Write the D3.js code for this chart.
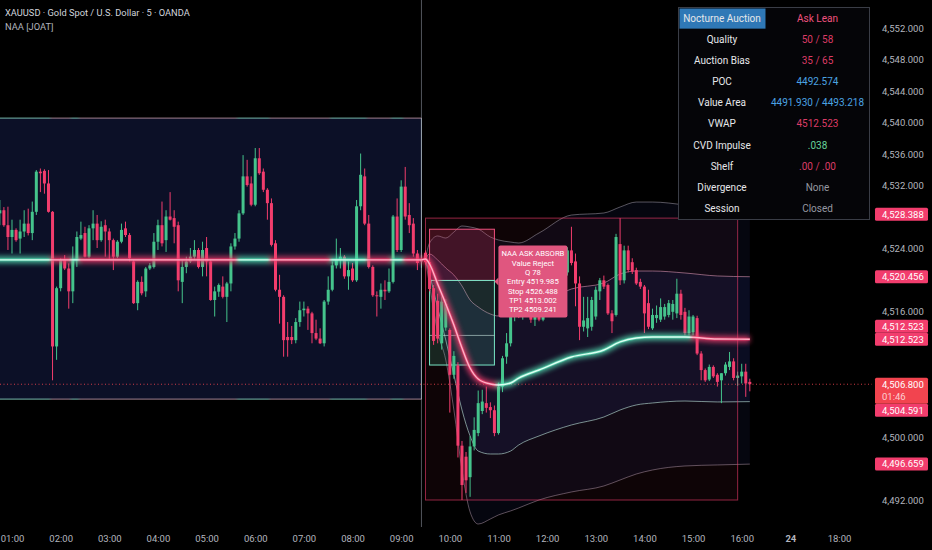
<!DOCTYPE html>
<html>
<head>
<meta charset="UTF-8">
<script src="https://cdn.jsdelivr.net/npm/d3@7"></script>
<style>
body {margin:0; background:#000;}
svg {display:block; font-family: Roboto, "Noto Sans", sans-serif;}
</style>
<title>XAUUSD 5m - NAA</title>
</head>
<body>
<svg id="chart" width="932" height="550"></svg>
<script>
// bars are 5 minutes, first visible bar opens 00:45
var firstBar = 45;
var barMin = 5;

var opens = [
4528.5,4528.9,4527.0,4525.5,4526.4,4525.3,4526.2,4527.2,4526.0,4528.7,
4533.8,4533.9,4532.3,4528.7,4511.6,4519.0,4522.6,4521.5,4518.6,4522.6,
4525.3,4526.0,4523.0,4526.6,4527.2,4525.1,4527.0,4526.2,4525.1,4523.0,
4524.9,4526.6,4525.75,4522.4,4517.1,4519.8,4518.6,4521.5,4521.7,4524.9,
4527.0,4525.1,4528.1,4527.9,4527.0,4519.8,4521.7,4522.4,4523.0,4523.85,
4521.7,4524.1,4522.4,4517.5,4518.56,4519.2,4517.9,4519.6,4524.3,4525.3,
4528.5,4533.2,4532.3,4529.6,4535.5,4533.8,4531.5,4529.8,4524.7,4518.8,
4517.9,4512.8,4512.8,4512.4,4514.7,4516.2,4516.4,4515.8,4513.3,4512.6,
4512.0,4517.3,4518.8,4521.9,4522.6,4523.0,4520.5,4521.5,4520.0,4529.4,
4533.2,4527.2,4521.7,4518.1,4517.9,4518.8,4518.6,4519.8,4528.1,4523.85,
4531.9,4528.3,4527.2,4523.4,4522.4,
4523.5,4522.3,4519.0,4517.4,4512.0,
4514.0,4513.7,4508.0,4509.2,4499.0,4497.6,4495.0,4498.9,4500.6,4503.4,
4504.4,4503.9,4503.5,4500.6,4506.5,4510.3,4512.0,4515.4,4516.4,4515.6,
4517.6,4517.0,4515.0,4515.6,4515.0,4518.0,4519.6,4519.0,4521.4,4520.6,
4521.0,4523.8,4522.4,4519.6,4514.1,4513.9,4514.1,4515.4,4518.6,4520.0,
4519.4,4515.8,4515.6,4524.6,4520.0,4523.8,4522.3,4521.3,4519.8,4519.2,
4517.1,4513.9,4515.2,4515.0,4515.4,4515.6,4516.0,4515.8,4518.3,4516.0,
4513.3,4513.4,4515.2,4510.7,4508.6,4507.4,4509.0,4508.0,4507.3,4508.2,
4509.0,4509.7,4507.6,4507.8,4508.4,4507.1
];
var highs = [
4530.2,4529.3,4529.35,4527.7,4526.6,4527.7,4528.9,4529.1,4530.0,4534.0,
4534.2,4534.1,4534.0,4528.8,4519.2,4522.8,4523.2,4522.15,4524.3,4526.2,
4527.45,4526.8,4527.0,4528.9,4528.3,4527.5,4527.7,4526.6,4525.3,4525.1,
4527.2,4527.45,4526.0,4522.6,4520.0,4520.5,4521.7,4522.2,4526.0,4527.7,
4530.0,4528.9,4531.2,4528.9,4527.45,4522.6,4523.0,4524.1,4525.1,4524.1,
4524.9,4525.5,4522.6,4519.2,4519.6,4520.5,4519.8,4524.7,4526.0,4528.9,
4535.9,4535.3,4533.2,4536.8,4536.8,4534.2,4531.7,4530.4,4525.1,4520.7,
4518.1,4514.7,4514.2,4515.2,4517.3,4517.3,4516.7,4516.0,4515.0,4513.9,
4517.5,4520.5,4522.4,4525.3,4524.1,4523.2,4522.4,4522.2,4530.2,4536.1,
4534.2,4528.3,4521.9,4518.6,4519.6,4520.0,4521.5,4528.3,4530.4,4532.7,
4534.4,4529.8,4527.9,4523.85,4523.2,
4523.8,4522.6,4519.4,4518.3,4518.0,
4517.6,4513.9,4511.0,4509.6,4499.6,4498.2,4500.2,4502.6,4506.0,4506.1,
4506.5,4504.5,4504.1,4507.0,4510.4,4513.3,4516.0,4517.0,4517.6,4518.2,
4519.0,4517.4,4516.0,4517.2,4518.4,4520.2,4521.0,4521.8,4522.6,4523.8,
4524.2,4526.8,4523.4,4520.5,4517.9,4517.9,4517.9,4519.2,4520.3,4520.6,
4519.6,4516.2,4525.9,4527.9,4524.4,4524.4,4522.8,4521.6,4520.2,4519.4,
4518.8,4516.4,4516.8,4517.7,4517.0,4517.5,4517.5,4520.2,4518.8,4516.5,
4516.2,4515.6,4515.5,4511.0,4508.8,4509.3,4509.2,4508.2,4508.2,4509.6,
4510.9,4510.1,4508.4,4509.4,4509.4,4507.5
];
var lows = [
4527.0,4526.8,4523.85,4523.4,4524.9,4523.4,4525.5,4525.7,4525.1,4528.3,
4531.2,4531.0,4528.6,4507.3,4509.9,4518.6,4521.3,4516.4,4517.1,4521.7,
4525.1,4522.9,4522.8,4525.1,4524.1,4524.9,4523.0,4522.6,4521.3,4522.8,
4524.7,4525.5,4522.4,4517.0,4516.2,4518.1,4517.9,4521.3,4521.5,4523.85,
4524.3,4523.6,4527.6,4524.7,4518.6,4517.1,4520.9,4522.2,4522.6,4521.5,
4520.5,4520.5,4517.4,4515.4,4517.9,4517.7,4514.7,4518.6,4523.9,4524.9,
4528.3,4531.9,4529.4,4529.4,4533.4,4531.2,4527.7,4524.3,4518.6,4514.5,
4510.3,4510.3,4511.9,4512.0,4514.1,4515.4,4513.7,4512.0,4512.4,4511.9,
4511.6,4516.9,4518.6,4521.5,4521.5,4520.2,4518.8,4519.8,4519.8,4528.9,
4527.0,4521.5,4517.9,4515.4,4516.4,4517.5,4518.4,4519.6,4523.6,4523.6,
4527.7,4526.0,4523.0,4521.3,4521.6,
4522.0,4518.6,4511.8,4512.0,4511.2,
4513.6,4503.2,4507.5,4497.5,4492.1,4493.0,4492.5,4498.4,4500.2,4503.0,
4503.2,4502.5,4500.2,4500.4,4505.8,4509.4,4511.6,4514.8,4515.2,4515.0,
4516.6,4514.6,4514.2,4514.8,4514.8,4517.4,4518.6,4518.6,4520.2,4520.2,
4520.6,4521.9,4516.7,4512.4,4513.5,4512.8,4513.6,4515.0,4517.5,4518.9,
4515.6,4513.3,4515.4,4519.4,4519.6,4521.0,4520.8,4519.4,4518.9,4513.3,
4513.8,4513.7,4514.6,4514.7,4515.0,4515.3,4515.0,4515.2,4515.0,4513.0,
4513.0,4513.0,4510.5,4507.3,4507.1,4507.2,4507.6,4506.5,4504.4,4507.9,
4508.6,4507.3,4506.6,4506.9,4505.2,4505.9
];
var closes = [
4528.9,4527.0,4525.5,4526.4,4525.1,4526.2,4527.2,4526.0,4528.7,4533.8,
4533.6,4532.3,4528.7,4511.6,4519.0,4522.6,4521.5,4518.6,4522.6,4525.5,
4525.75,4523.0,4526.6,4527.2,4525.1,4526.8,4526.2,4525.1,4523.0,4524.9,
4526.4,4525.75,4522.8,4517.1,4519.8,4518.35,4521.5,4521.9,4524.9,4527.0,
4524.7,4528.1,4527.7,4526.8,4520.0,4521.7,4522.4,4523.0,4523.85,4521.7,
4523.85,4522.4,4517.5,4518.6,4519.4,4517.9,4519.6,4524.3,4525.3,4528.5,
4533.2,4532.1,4529.6,4535.5,4533.6,4531.5,4529.8,4524.5,4518.8,4517.9,
4512.4,4512.4,4512.4,4514.7,4516.2,4516.4,4515.8,4513.3,4512.6,4512.0,
4517.3,4518.8,4521.9,4522.6,4523.0,4520.5,4521.3,4520.0,4529.4,4533.4,
4527.2,4521.7,4518.1,4518.0,4518.8,4518.6,4519.8,4528.1,4523.85,4531.9,
4528.1,4527.0,4523.4,4522.2,4522.6,
4522.3,4518.9,4512.3,4512.6,4517.3,
4517.0,4508.0,4510.4,4499.0,4494.0,4494.6,4498.9,4501.0,4504.4,4504.6,
4503.8,4503.5,4500.6,4506.5,4510.1,4512.0,4515.4,4516.4,4515.6,4517.6,
4517.0,4515.0,4515.6,4515.0,4518.0,4519.6,4519.0,4521.4,4520.6,4523.2,
4523.8,4522.2,4519.6,4514.1,4514.9,4515.2,4517.5,4518.8,4520.0,4519.2,
4515.8,4514.8,4525.5,4520.0,4523.8,4521.3,4521.1,4519.6,4519.2,4515.8,
4514.1,4515.6,4515.6,4516.6,4516.6,4517.1,4517.0,4518.3,4515.6,4513.3,
4515.4,4515.4,4510.7,4508.6,4507.3,4509.0,4507.8,4507.1,4508.2,4509.3,
4509.7,4507.6,4507.9,4508.4,4506.9,4506.8
];

// overnight box and its mid line (bars 0..104), new session from bar 105
var asiaEndBar = 104;
var asiaMid = 4522.6;
var asiaBoxTop = 4540.6;
var asiaBoxBottom = 4504.9;
var sessionStartBar = 105;
var sessionBoxEndBar = 182;

// session VWAP and deviation bands, read at these bars
var bandBars = [105,106,108,110,112,114,116,118,121,123,126,128,133,141,149,153,157,161,169,177,185];
var vwap   = [4522.71,4522.07,4519.53,4516.99,4514.32,4511.40,4508.86,4507.47,4506.83,4506.71,4506.96,4507.59,4508.61,4510.26,4511.15,4512.17,4512.67,4512.80,4512.80,4512.55,4512.523];
var upper1 = [4522.71,4523.34,4522.58,4521.56,4520.67,4519.28,4517.50,4516.61,4515.72,4515.47,4515.59,4516.10,4516.99,4518.90,4519.66,4520.80,4521.18,4521.18,4520.93,4520.55,4520.456];
var lower1 = [4522.71,4520.80,4516.48,4512.42,4507.98,4503.53,4500.23,4498.32,4497.94,4497.94,4498.32,4499.09,4500.23,4501.63,4502.64,4503.53,4504.17,4504.42,4504.67,4504.55,4504.591];
var upper2 = [4522.71,4524.74,4525.63,4525.37,4526.13,4526.90,4526.77,4526.52,4525.50,4525.12,4524.86,4524.74,4526.01,4528.29,4528.55,4529.31,4529.94,4529.94,4529.56,4528.93,4528.388];
var lower2 = [4522.71,4519.40,4513.44,4509.88,4503.53,4495.91,4490.58,4489.05,4489.69,4490.20,4490.71,4491.09,4492.10,4493.12,4493.88,4494.64,4495.40,4495.91,4496.42,4496.55,4496.659];

// flow bias of the mid line: bar where it flips, and the side it flips to
var biasBars  = [0, 13, 18, 20, 59, 67, 82, 91, 97, 100, 123, 171];
var biasSides = ["bid","ask","bid","ask","bid","ask","bid","ask","bid","ask","bid","ask"];

// signal
var signalStartBar = 106;
var signalEndBar = 122;
var entry = 4519.985, stop = 4526.488, tp1 = 4513.002, tp2 = 4509.241;
var signalText = ["NAA ASK ABSORB","Value Reject","Q 78","Entry 4519.985","Stop 4526.488","TP1 4513.002","TP2 4509.241"];

// panel
var tableLabels = ["Nocturne Auction","Quality","Auction Bias","POC","Value Area","VWAP","CVD Impulse","Shelf","Divergence","Session"];
var tableValues = ["Ask Lean","50 / 58","35 / 65","4492.574","4491.930 / 4493.218","4512.523",".038",".00 / .00","None","Closed"];

// axes
var timeTicks = [60,120,180,240,300,360,420,480,540,600,660,720,780,840,900,960,1020,1080];
var timeLabels = ["01:00","02:00","03:00","04:00","05:00","06:00","07:00","08:00","09:00","10:00","11:00","12:00","13:00","14:00","15:00","16:00","24","18:00"];
var priceTicks = [4492,4496,4500,4504,4508,4512,4516,4520,4524,4528,4532,4536,4540,4544,4548,4552];
var countdown = "01:46";

var upCol = "#45c48c", dnCol = "#f23d6d";
var mint = "#55e2b6", pink = "#f23d6d";

var plotW = 872, plotH = 527;
var svg = d3.select("#chart");
svg.append("rect").attr("width", 932).attr("height", 550).attr("fill", "#000");

var x = d3.scaleLinear().domain([45.2, 1120.7]).range([0, plotW]);
var y = d3.scaleLinear().domain([4488.67, 4555.6]).range([plotH, 0]);
function bx(i) { return x(firstBar + i * barMin); }

var defs = svg.append("defs");
defs.append("clipPath").attr("id", "plotClip").append("rect").attr("width", plotW).attr("height", plotH);
defs.append("filter").attr("id", "glow").attr("x", "-5%").attr("y", "-50%").attr("width", "110%").attr("height", "200%")
    .append("feGaussianBlur").attr("stdDeviation", 2.4);

function sideAt(i) {
    var s = biasSides[0];
    biasBars.forEach(function(b, k) { if (b <= i) s = biasSides[k]; });
    return s;
}
function addGrad(id, bidC, askC) {
    var g = defs.append("linearGradient").attr("id", id).attr("gradientUnits", "userSpaceOnUse")
        .attr("x1", 0).attr("x2", plotW).attr("y1", 0).attr("y2", 0);
    closes.forEach(function(c, i) {
        var off = Math.max(0, Math.min(1, bx(i) / plotW));
        g.append("stop").attr("offset", off).attr("stop-color", sideAt(i) === "bid" ? bidC : askC);
    });
}
addGrad("glowGrad", mint, pink);
addGrad("coreGrad", "#dcfff2", "#ffb0c6");
addGrad("edgeGrad", "#8fe0cc", "#c49aaa");

var plot = svg.append("g").attr("clip-path", "url(#plotClip)");

// overnight box
plot.append("rect").attr("x", bx(-12)).attr("width", bx(asiaEndBar) - bx(-12))
    .attr("y", y(asiaBoxTop)).attr("height", y(asiaBoxBottom) - y(asiaBoxTop))
    .attr("fill", "#0c1027");

// session box + band fills
var sHigh = d3.max(highs.slice(sessionStartBar, sessionBoxEndBar + 1));
var sLow = d3.min(lows.slice(sessionStartBar, sessionBoxEndBar + 1));
plot.append("rect").attr("x", bx(sessionStartBar)).attr("width", bx(sessionBoxEndBar) - bx(sessionStartBar))
    .attr("y", y(sHigh)).attr("height", y(sLow) - y(sHigh))
    .attr("fill", "rgba(242,61,109,0.06)");

var bandIdx = d3.range(bandBars.length);
function bandArea(hi, lo) {
    return d3.area().x(function(k) { return bx(bandBars[k]); })
        .y0(function(k) { return y(lo[k]); }).y1(function(k) { return y(hi[k]); })
        .curve(d3.curveMonotoneX)(bandIdx);
}
function bandLine(vals) {
    return d3.line().x(function(k) { return bx(bandBars[k]); }).y(function(k) { return y(vals[k]); })
        .curve(d3.curveMonotoneX)(bandIdx);
}
plot.append("path").attr("d", bandArea(upper2, lower2)).attr("fill", "rgba(60,65,170,0.09)");
plot.append("path").attr("d", bandArea(upper1, lower1)).attr("fill", "rgba(60,80,210,0.10)");

// session divider
plot.append("line").attr("x1", bx(asiaEndBar)).attr("x2", bx(asiaEndBar)).attr("y1", 0).attr("y2", plotH)
    .attr("stroke", "rgba(150,155,170,0.55)").attr("stroke-width", 1);

plot.append("path").attr("d", bandLine(upper2)).attr("fill", "none").attr("stroke", "rgba(190,185,200,0.45)").attr("stroke-width", 1);
plot.append("path").attr("d", bandLine(lower2)).attr("fill", "none").attr("stroke", "rgba(200,170,190,0.45)").attr("stroke-width", 1);
plot.append("path").attr("d", bandLine(upper1)).attr("fill", "none").attr("stroke", "rgba(235,160,190,0.55)").attr("stroke-width", 1);
plot.append("path").attr("d", bandLine(lower1)).attr("fill", "none").attr("stroke", "rgba(190,230,220,0.6)").attr("stroke-width", 1);

// signal zones
var sx0 = bx(signalStartBar), sx1 = bx(signalEndBar);
plot.append("rect").attr("x", sx0).attr("width", sx1 - sx0).attr("y", y(stop)).attr("height", y(entry) - y(stop))
    .attr("fill", "rgba(242,61,109,0.22)").attr("stroke", "#f0507e").attr("stroke-width", 1);
plot.append("rect").attr("x", sx0).attr("width", sx1 - sx0).attr("y", y(entry)).attr("height", y(tp2) - y(entry))
    .attr("fill", "rgba(80,210,170,0.16)").attr("stroke", "#78e6c6").attr("stroke-width", 1);
plot.append("line").attr("x1", sx0).attr("x2", sx1).attr("y1", y(tp1)).attr("y2", y(tp1))
    .attr("stroke", "rgba(200,230,225,0.6)").attr("stroke-width", 1);

// last price line
var last = closes[closes.length - 1];
plot.append("line").attr("x1", 0).attr("x2", plotW).attr("y1", y(last)).attr("y2", y(last))
    .attr("stroke", "#f2444f").attr("stroke-width", 1).attr("stroke-dasharray", "1,2.5").attr("opacity", 0.85);

// candles
var candles = d3.range(closes.length).map(function(i) {
    return {i: i, o: opens[i], h: highs[i], l: lows[i], c: closes[i]};
});
var cg = plot.append("g");
cg.selectAll("line").data(candles).enter().append("line")
    .attr("x1", function(d) { return bx(d.i); }).attr("x2", function(d) { return bx(d.i); })
    .attr("y1", function(d) { return y(d.h); }).attr("y2", function(d) { return y(d.l); })
    .attr("stroke", function(d) { return d.c >= d.o ? upCol : dnCol; }).attr("stroke-width", 1);
cg.selectAll("rect").data(candles).enter().append("rect")
    .attr("x", function(d) { return bx(d.i) - 1.5; }).attr("width", 3)
    .attr("y", function(d) { return y(Math.max(d.o, d.c)); })
    .attr("height", function(d) { return Math.max(1, Math.abs(y(d.o) - y(d.c))); })
    .attr("fill", function(d) { return d.c >= d.o ? upCol : dnCol; });

// box borders
[asiaBoxTop, asiaBoxBottom].forEach(function(p) {
    plot.append("line").attr("x1", bx(-12)).attr("x2", bx(asiaEndBar)).attr("y1", y(p)).attr("y2", y(p))
        .attr("stroke", "url(#edgeGrad)").attr("stroke-width", 1.2).attr("opacity", 0.65);
});
plot.append("line").attr("x1", bx(asiaEndBar)).attr("x2", bx(asiaEndBar)).attr("y1", y(asiaBoxTop)).attr("y2", y(asiaBoxBottom))
    .attr("stroke", "rgba(200,215,225,0.6)").attr("stroke-width", 1);
plot.append("rect").attr("x", bx(sessionStartBar)).attr("width", bx(sessionBoxEndBar) - bx(sessionStartBar))
    .attr("y", y(sHigh)).attr("height", y(sLow) - y(sHigh))
    .attr("fill", "none").attr("stroke", "rgba(242,61,109,0.6)").attr("stroke-width", 1);

// glowing mid line continuing into session vwap
var midPts = [[-3, asiaMid], [asiaEndBar, asiaMid]].concat(bandBars.map(function(b, k) { return [b, vwap[k]]; }));
var midPath = d3.line().x(function(d) { return bx(d[0]); }).y(function(d) { return y(d[1]); }).curve(d3.curveMonotoneX)(midPts);
plot.append("path").attr("d", midPath).attr("fill", "none").attr("stroke", "url(#glowGrad)")
    .attr("stroke-width", 7).attr("opacity", 0.75).attr("filter", "url(#glow)");
plot.append("path").attr("d", midPath).attr("fill", "none").attr("stroke", "url(#glowGrad)")
    .attr("stroke-width", 3).attr("opacity", 0.6);
plot.append("path").attr("d", midPath).attr("fill", "none").attr("stroke", "url(#coreGrad)")
    .attr("stroke-width", 1.4);

// signal label
var ly = y(entry) + 1, lx = bx(signalEndBar) + 4, lw = 69, lh = 72;
var lab = svg.append("g");
lab.append("path").attr("d", "M" + (lx - 4) + "," + ly + "L" + lx + "," + (ly - 4) + "L" + lx + "," + (ly + 4) + "Z").attr("fill", "#e0567f");
lab.append("rect").attr("x", lx).attr("y", ly - lh / 2).attr("width", lw).attr("height", lh).attr("rx", 2).attr("fill", "#e0567f");
lab.selectAll("text").data(signalText).enter().append("text")
    .attr("x", lx + lw / 2).attr("y", function(d, k) { return ly + (k - 3) * 9.3 + 2.8; })
    .attr("text-anchor", "middle").attr("font-size", 7.7).attr("fill", "#fff").text(function(d) { return d; });

// panel
var tx0 = 678.5, ty0 = 7.5, tw = 191, rowH = 21.15;
var valueColors = ["#f0527f","#dc3c66","#dc3c66","#4ba3e3","#4ba3e3","#dc3c66","#66d39a","#dc3c66","#9598a1","#9598a1"];
var tg = svg.append("g");
tg.append("rect").attr("x", tx0).attr("y", ty0).attr("width", tw).attr("height", rowH * 10 + 0.5)
    .attr("fill", "#050508").attr("stroke", "#3a3d46").attr("stroke-width", 1);
tg.append("rect").attr("x", tx0 + 1).attr("y", ty0 + 1).attr("width", 86).attr("height", rowH - 1).attr("fill", "#2f78b6");
tg.selectAll("text.lbl").data(tableLabels).enter().append("text").attr("class", "lbl")
    .attr("x", 722).attr("y", function(d, k) { return ty0 + rowH * k + rowH / 2 + 3.6; })
    .attr("text-anchor", "middle").attr("font-size", 10).attr("fill", "#e6e7ea").text(function(d) { return d; });
tg.selectAll("text.val").data(tableValues).enter().append("text").attr("class", "val")
    .attr("x", 817.5).attr("y", function(d, k) { return ty0 + rowH * k + rowH / 2 + 3.6; })
    .attr("text-anchor", "middle").attr("font-size", 10).attr("fill", function(d, k) { return valueColors[k]; }).text(function(d) { return d; });

// time axis
var xAxis = svg.append("g").attr("transform", "translate(0," + plotH + ")")
    .call(d3.axisBottom(x).tickValues(timeTicks).tickSize(0).tickPadding(8)
        .tickFormat(function(d, k) { return timeLabels[k]; }));
xAxis.select(".domain").remove();
xAxis.selectAll("text").attr("fill", "#b2b5be").attr("font-size", 9.5).attr("font-family", "Roboto, sans-serif")
    .attr("font-weight", function(d, k) { return timeLabels[k] === "24" ? 700 : 400; });

// price badges (placed first so covered tick labels can be dropped)
var fmt = d3.format(",.3f");
var bh = 13, bx0 = 875, bw = 53;
var lastY = y(last);
var placed = [{top: lastY - bh / 2, bottom: lastY - bh / 2 + 26, p: last}];
var badgeList = [vwap[vwap.length - 1], vwap[vwap.length - 1], upper1[upper1.length - 1], upper2[upper2.length - 1], lower1[lower1.length - 1], lower2[lower2.length - 1]];
badgeList.forEach(function(p) {
    var c = y(p);
    for (var n = 0; n < 6; n++) {
        var hit = placed.filter(function(b) { return c - bh / 2 < b.bottom - 0.1 && c + bh / 2 > b.top + 0.1; })[0];
        if (!hit) break;
        c = p >= hit.p ? hit.top - bh / 2 : hit.bottom + bh / 2;
    }
    placed.push({top: c - bh / 2, bottom: c + bh / 2, p: p});
});

// price axis
var freeTicks = priceTicks.filter(function(t) {
    var ty = y(t);
    return !placed.some(function(b) { return ty + 4 > b.top && ty - 4 < b.bottom; });
});
var yAxis = svg.append("g").attr("transform", "translate(878,0)")
    .call(d3.axisRight(y).tickValues(freeTicks).tickSize(0).tickPadding(4).tickFormat(fmt));
yAxis.select(".domain").remove();
yAxis.selectAll("text").attr("fill", "#b2b5be").attr("font-size", 9.5).attr("font-family", "Roboto, sans-serif");

var bg = svg.append("g");
placed.slice(1).forEach(function(b) {
    bg.append("rect").attr("x", bx0).attr("y", b.top).attr("width", bw).attr("height", bh).attr("rx", 1.5).attr("fill", "#f23d6d");
    bg.append("text").attr("x", 882).attr("y", b.top + bh / 2 + 3.4).attr("font-size", 9.5).attr("fill", "#fff").text(fmt(b.p));
});
bg.append("rect").attr("x", bx0).attr("y", lastY - bh / 2).attr("width", bw).attr("height", 26).attr("rx", 1.5).attr("fill", "#f2444f");
bg.append("text").attr("x", 882).attr("y", lastY + 3.4).attr("font-size", 9.5).attr("fill", "#fff").text(fmt(last));
bg.append("text").attr("x", 882).attr("y", lastY + 15.4).attr("font-size", 9.5).attr("fill", "rgba(255,235,235,0.85)").text(countdown);

// title
svg.append("text").attr("x", 5).attr("y", 15.5).attr("font-size", 9.3).attr("fill", "#d1d4dc")
    .text("XAUUSD \u00b7 Gold Spot / U.S. Dollar \u00b7 5 \u00b7 OANDA");
svg.append("text").attr("x", 5).attr("y", 29.5).attr("font-size", 9.3).attr("fill", "#b2b5be").text("NAA [JOAT]");
</script>
</body>
</html>
